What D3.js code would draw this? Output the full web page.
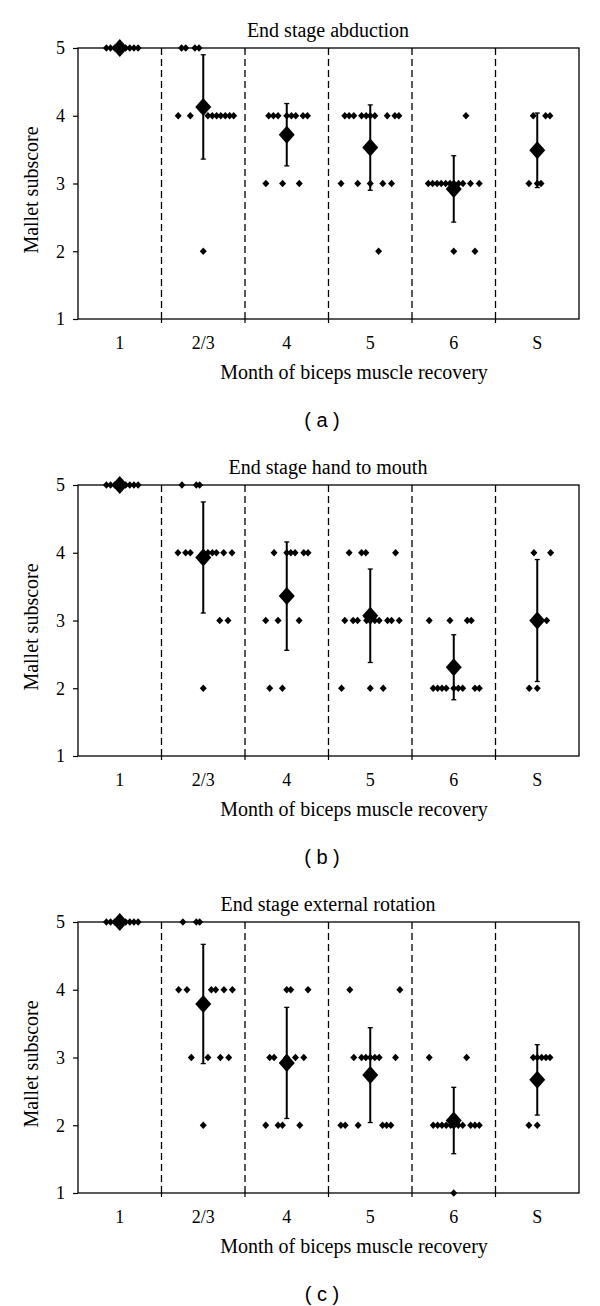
<!DOCTYPE html>
<html>
<head>
<meta charset="utf-8">
<script src="https://cdn.jsdelivr.net/npm/d3@7"></script>
<style>
  html, body { margin: 0; padding: 0; background: #fff; }
  svg { display: block; }
</style>
</head>
<body>
<svg id="chart" width="600" height="1306"></svg>
<script>
// ---------- DATA ----------
const categories = ["1", "2/3", "4", "5", "6", "S"];
const yTicks = [1, 2, 3, 4, 5];
const panelTitles = ["End stage abduction", "End stage hand to mouth", "End stage external rotation"];
const panelLetters = ["a", "b", "c"];
const xAxisTitle = "Month of biceps muscle recovery";
const yAxisTitle = "Mallet subscore";

// individual patients: [category, horizontal jitter (fraction of band), score]
const abductionDots = [
  ["1",-0.16,5],["1",-0.11,5],["1",-0.06,5],["1",0,5],["1",0.07,5],["1",0.12,5],["1",0.17,5],["1",0.22,5],
  ["2/3",-0.26,5],["2/3",-0.21,5],["2/3",-0.10,5],["2/3",-0.05,5],
  ["2/3",-0.30,4],["2/3",-0.155,4],["2/3",0.056,4],["2/3",0.108,4],["2/3",0.16,4],["2/3",0.21,4],["2/3",0.264,4],["2/3",0.316,4],["2/3",0.364,4],
  ["2/3",0,2],
  ["4",-0.216,4],["4",-0.16,4],["4",-0.104,4],["4",0,4],["4",0.056,4],["4",0.108,4],["4",0.195,4],["4",0.248,4],
  ["4",-0.25,3],["4",-0.05,3],["4",0.15,3],
  ["5",-0.305,4],["5",-0.253,4],["5",-0.197,4],["5",-0.104,4],["5",-0.049,4],["5",0,4],["5",0.055,4],["5",0.203,4],["5",0.295,4],["5",0.343,4],
  ["5",-0.35,3],["5",-0.15,3],["5",0,3],["5",0.15,3],["5",0.255,3],
  ["5",0.10,2],
  ["6",0.146,4],
  ["6",-0.305,3],["6",-0.253,3],["6",-0.2,3],["6",-0.15,3],["6",-0.097,3],["6",-0.045,3],["6",0,3],["6",0.058,3],["6",0.11,3],["6",0.2,3],["6",0.305,3],
  ["6",0,2],["6",0.254,2],
  ["S",-0.048,4],["S",0.1,4],["S",0.152,4],
  ["S",-0.1,3],["S",0,3],["S",0.045,3]
];
const handToMouthDots = [
  ["1",-0.16,5],["1",-0.11,5],["1",-0.06,5],["1",0,5],["1",0.07,5],["1",0.12,5],["1",0.17,5],["1",0.22,5],
  ["2/3",-0.255,5],["2/3",-0.083,5],["2/3",-0.043,5],
  ["2/3",-0.303,4],["2/3",-0.211,4],["2/3",-0.155,4],["2/3",0,4],["2/3",0.056,4],["2/3",0.109,4],["2/3",0.157,4],["2/3",0.245,4],["2/3",0.344,4],
  ["2/3",0.197,3],["2/3",0.296,3],
  ["2/3",0,2],
  ["4",-0.152,4],["4",0,4],["4",0.048,4],["4",0.1,4],["4",0.204,4],["4",0.255,4],
  ["4",-0.252,3],["4",-0.104,3],["4",0.148,3],
  ["4",-0.204,2],["4",-0.052,2],
  ["5",-0.253,4],["5",-0.104,4],["5",-0.053,4],["5",0.303,4],
  ["5",-0.305,3],["5",-0.205,3],["5",-0.152,3],["5",-0.044,3],["5",0.055,3],["5",0.107,3],["5",0.207,3],["5",0.255,3],["5",0.347,3],
  ["5",-0.344,2],["5",0,2],["5",0.155,2],
  ["6",-0.294,3],["6",-0.046,3],["6",0.162,3],["6",0.21,3],
  ["6",-0.246,2],["6",-0.193,2],["6",-0.141,2],["6",-0.09,2],["6",0,2],["6",0.054,2],["6",0.107,2],["6",0.254,2],["6",0.306,2],
  ["S",-0.04,4],["S",0.16,4],
  ["S",0,3],["S",0.113,3],
  ["S",-0.096,2],["S",0,2]
];
const externalRotationDots = [
  ["1",-0.16,5],["1",-0.11,5],["1",-0.06,5],["1",0,5],["1",0.07,5],["1",0.12,5],["1",0.17,5],["1",0.22,5],
  ["2/3",-0.244,5],["2/3",-0.083,5],["2/3",-0.043,5],
  ["2/3",-0.295,4],["2/3",-0.195,4],["2/3",0.097,4],["2/3",0.149,4],["2/3",0.248,4],["2/3",0.349,4],
  ["2/3",-0.143,3],["2/3",0.056,3],["2/3",0.205,3],["2/3",0.305,3],
  ["2/3",0,2],
  ["4",0,4],["4",0.048,4],["4",0.255,4],
  ["4",-0.204,3],["4",-0.152,3],["4",0,3],["4",0.104,3],["4",0.204,3],
  ["4",-0.252,2],["4",-0.104,2],["4",-0.052,2],["4",0.156,2],
  ["5",-0.245,4],["5",0.355,4],
  ["5",-0.197,3],["5",-0.104,3],["5",-0.053,3],["5",0,3],["5",0.055,3],["5",0.107,3],["5",0.303,3],
  ["5",-0.352,2],["5",-0.3,2],["5",-0.145,2],["5",0.147,2],["5",0.196,2],["5",0.247,2],
  ["6",-0.294,3],["6",0.154,3],
  ["6",-0.246,2],["6",-0.193,2],["6",-0.141,2],["6",-0.09,2],["6",-0.037,2],["6",0,2],["6",0.054,2],["6",0.107,2],["6",0.203,2],["6",0.254,2],["6",0.306,2],
  ["6",0,1],
  ["S",-0.048,3],["S",0,3],["S",0.053,3],["S",0.104,3],["S",0.152,3],
  ["S",-0.1,2],["S",0,2]
];

// group means and standard deviations (per category, same order as categories)
const abductionMean = [5, 4.13, 3.72, 3.53, 2.92, 3.49];
const abductionSD   = [0, 0.77, 0.46, 0.63, 0.49, 0.55];
const handToMouthMean = [5, 3.93, 3.36, 3.07, 2.31, 3.00];
const handToMouthSD   = [0, 0.82, 0.80, 0.69, 0.48, 0.90];
const externalRotationMean = [5, 3.79, 2.92, 2.74, 2.07, 2.67];
const externalRotationSD   = [0, 0.88, 0.82, 0.70, 0.49, 0.52];

const panelDots = [abductionDots, handToMouthDots, externalRotationDots];
const panelMeans = [abductionMean, handToMouthMean, externalRotationMean];
const panelSDs = [abductionSD, handToMouthSD, externalRotationSD];

// ---------- DRAW ----------
const svg = d3.select("#chart");
svg.append("rect").attr("width", 600).attr("height", 1306).attr("fill", "#fff");

const serif = "'Liberation Serif', 'Times New Roman', serif";
const sans = "'Liberation Sans', Arial, sans-serif";
const left = 78, right = 579, plotH = 271, firstTop = 48, panelStep = 437;

function diamond(w, h) {
  const p = d3.path();
  p.moveTo(0, -h / 2); p.lineTo(w / 2, 0); p.lineTo(0, h / 2); p.lineTo(-w / 2, 0); p.closePath();
  return p.toString();
}
const smallDiamond = diamond(7, 7.5);
const bigDiamond = diamond(16, 18);

panelTitles.forEach((title, pi) => {
  const top = firstTop + pi * panelStep;
  const bottom = top + plotH;
  const x = d3.scaleBand().domain(categories).range([left, right]).padding(0);
  const y = d3.scaleLinear().domain([1, 5]).range([bottom, top]);
  const g = svg.append("g");

  // dashed separators
  g.selectAll("line.sep").data(categories.slice(1)).join("line")
    .attr("x1", d => x(d)).attr("x2", d => x(d))
    .attr("y1", top).attr("y2", bottom)
    .attr("stroke", "#000").attr("stroke-width", 1.3).attr("stroke-dasharray", "7,4");

  // frame
  g.append("rect").attr("x", left).attr("y", top).attr("width", right - left).attr("height", plotH)
    .attr("fill", "none").attr("stroke", "#000").attr("stroke-width", 1.3);

  // y axis
  const yAxis = d3.axisLeft(y).tickValues(yTicks).tickSize(5).tickPadding(8).tickFormat(d3.format("d"));
  const ya = g.append("g").attr("transform", `translate(${left},0)`).call(yAxis);
  ya.select(".domain").remove();
  ya.selectAll("line").attr("stroke", "#000").attr("stroke-width", 1.2);
  ya.selectAll("text").attr("font-family", serif).attr("font-size", 18).attr("fill", "#000");

  // x axis: labels centered in bands, ticks at separators
  const xa = g.append("g").attr("transform", `translate(0,${bottom})`)
    .call(d3.axisBottom(x).tickSize(0).tickPadding(17));
  xa.select(".domain").remove();
  xa.selectAll("text").attr("font-family", serif).attr("font-size", 18).attr("fill", "#000");
  g.selectAll("line.xt").data(categories.slice(1)).join("line")
    .attr("x1", d => x(d)).attr("x2", d => x(d))
    .attr("y1", bottom).attr("y2", bottom + 4)
    .attr("stroke", "#000").attr("stroke-width", 1.2);

  // individual dots
  g.selectAll("path.dot").data(panelDots[pi]).join("path")
    .attr("d", smallDiamond)
    .attr("transform", d => `translate(${x(d[0]) + x.bandwidth() * (0.5 + d[1])},${y(d[2])})`)
    .attr("fill", "#000");

  // error bars
  const stats = categories.map((c, i) => ({ c, m: panelMeans[pi][i], s: panelSDs[pi][i] }));
  const eb = g.selectAll("g.eb").data(stats.filter(d => d.s > 0)).join("g");
  const cx = d => x(d.c) + x.bandwidth() / 2;
  eb.append("line").attr("x1", cx).attr("x2", cx)
    .attr("y1", d => y(d.m + d.s)).attr("y2", d => y(d.m - d.s))
    .attr("stroke", "#000").attr("stroke-width", 2);
  [1, -1].forEach(sign => {
    eb.append("line").attr("x1", d => cx(d) - 2.5).attr("x2", d => cx(d) + 2.5)
      .attr("y1", d => y(d.m + sign * d.s)).attr("y2", d => y(d.m + sign * d.s))
      .attr("stroke", "#000").attr("stroke-width", 1.3);
  });

  // mean diamonds
  g.selectAll("path.mean").data(stats).join("path")
    .attr("d", bigDiamond)
    .attr("transform", d => `translate(${cx(d)},${y(d.m)})`)
    .attr("fill", "#000");

  // titles
  g.append("text").attr("x", 328).attr("y", top - 11.5).attr("text-anchor", "middle")
    .attr("font-family", serif).attr("font-size", 20).text(title);
  g.append("text").attr("x", 354).attr("y", bottom + 60).attr("text-anchor", "middle")
    .attr("font-family", serif).attr("font-size", 20).text(xAxisTitle);
  g.append("text").attr("transform", `translate(38,${top + 142}) rotate(-90)`)
    .attr("text-anchor", "middle").attr("font-family", serif).attr("font-size", 20).text(yAxisTitle);
  g.append("text").attr("x", 322).attr("y", bottom + 108).attr("text-anchor", "middle")
    .attr("font-family", sans).attr("font-size", 20).attr("xml:space", "preserve")
    .text(`( ${panelLetters[pi]} )`);
});
</script>
</body>
</html>
